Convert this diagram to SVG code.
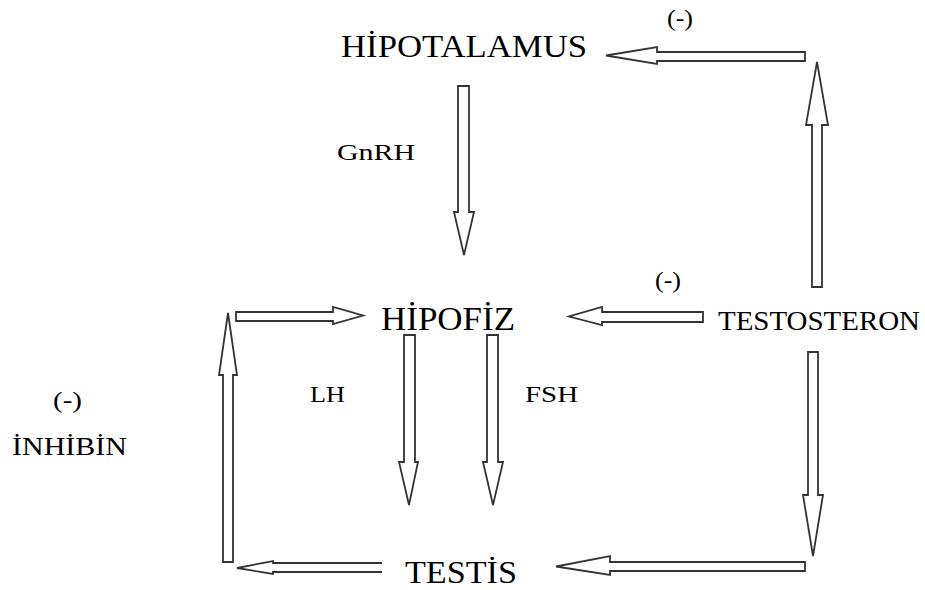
<svg xmlns="http://www.w3.org/2000/svg" width="925" height="590" viewBox="0 0 925 590">
<style>
.node{font-family:"Liberation Serif","Times New Roman",serif;fill:#000;}
.lbl{font-family:"Liberation Serif","Times New Roman",serif;fill:#000;font-size:23px;}
.arr{fill:#fff;stroke:#333;stroke-width:1.8;stroke-linejoin:miter;}
</style>
<rect width="925" height="590" fill="#fff"/>
<g id="hipotalamus"><text class="node" x="341" y="57" font-size="32" textLength="246" lengthAdjust="spacingAndGlyphs">HİPOTALAMUS</text></g>
<g id="hipofiz"><text class="node" x="381" y="330" font-size="33" textLength="134" lengthAdjust="spacingAndGlyphs">HİPOFİZ</text></g>
<g id="testosteron"><text class="node" x="718" y="330" font-size="27" textLength="202" lengthAdjust="spacingAndGlyphs">TESTOSTERON</text></g>
<g id="testis"><text class="node" x="405" y="583" font-size="31" textLength="112" lengthAdjust="spacingAndGlyphs">TESTİS</text></g>
<g id="inhibin"><text class="node" x="12" y="455" font-size="25" textLength="115" lengthAdjust="spacingAndGlyphs">İNHİBİN</text><text class="lbl" x="53" y="408" textLength="29" lengthAdjust="spacingAndGlyphs">(-)</text></g>
<g id="connectors">
<polygon class="arr" points="805,52 657,52 657,47 606,55.5 657,64 657,61 805,61"/>
<polygon class="arr" points="812,287 812,125 806,125 817,62 828,125 822,125 822,287"/>
<polygon class="arr" points="458,86 458,212 454,212 464,255 474,212 469,212 469,86"/>
<polygon class="arr" points="236,312 333,312 333,307 363,315.5 333,324 333,321 236,321"/>
<polygon class="arr" points="703,312 602,312 602,307 569,316.5 602,325 602,322 703,322"/>
<polygon class="arr" points="404,335 404,462 399,462 409,505 418,462 415,462 415,335"/>
<polygon class="arr" points="487,335 487,462 483,462 493,505 503,462 498,462 498,335"/>
<polygon class="arr" points="808,352 808,495 803,495 813,556 823,495 818,495 818,352"/>
<polygon class="arr" points="805,562 610,562 610,556 556,566.5 610,575 610,571 805,571"/>
<path class="arr" d="M382,563 L273,563 L273,561 L237,568 L273,574 L273,572 L382,572"/>
<polygon class="arr" points="223,562 223,375 219,375 228,313 237,375 233,375 233,562"/>
<text class="lbl" x="337" y="160" textLength="78" lengthAdjust="spacingAndGlyphs">GnRH</text>
<text class="lbl" x="310" y="402" textLength="35" lengthAdjust="spacingAndGlyphs">LH</text>
<text class="lbl" x="525" y="402" textLength="53" lengthAdjust="spacingAndGlyphs">FSH</text>
<text class="lbl" x="667" y="26" textLength="26" lengthAdjust="spacingAndGlyphs">(-)</text>
<text class="lbl" x="655" y="288" textLength="26" lengthAdjust="spacingAndGlyphs">(-)</text>
</g>
</svg>
